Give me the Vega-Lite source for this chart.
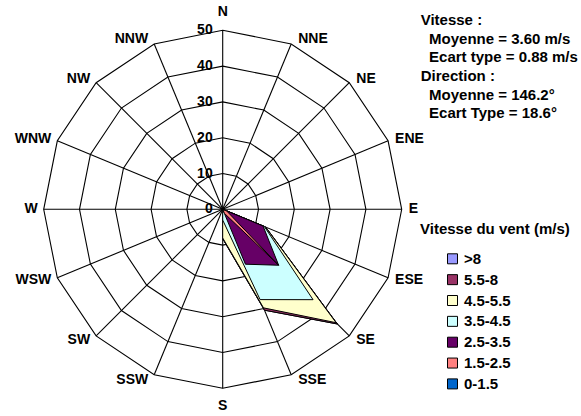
{
  "$schema": "https://vega.github.io/schema/vega-lite/v6.json",
  "width": 358,
  "height": 358,
  "autosize": {"type": "none"},
  "padding": {"left": 43.7, "top": 30.3, "right": 179.3, "bottom": 27.7},
  "background": "white",
  "title": {
    "text": ["Vitesse :", "\u200b\u00a0\u00a0Moyenne = 3.60 m/s", "\u200b\u00a0\u00a0Ecart type = 0.88 m/s", "Direction :", "\u200b\u00a0\u00a0Moyenne = 146.2°", "\u200b\u00a0\u00a0Ecart Type = 18.6°"],
    "anchor": "start",
    "frame": "group",
    "align": "left",
    "baseline": "top",
    "orient": "top",
    "offset": 0,
    "dx": 377,
    "dy": 116,
    "font": "Liberation Sans",
    "fontSize": 15,
    "fontWeight": "bold",
    "lineHeight": 18.7,
    "color": "black"
  },
  "datasets": {
    "dirs": [
      {"dir": "N", "angle": 0}, {"dir": "NNE", "angle": 22.5}, {"dir": "NE", "angle": 45}, {"dir": "ENE", "angle": 67.5},
      {"dir": "E", "angle": 90}, {"dir": "ESE", "angle": 112.5}, {"dir": "SE", "angle": 135}, {"dir": "SSE", "angle": 157.5},
      {"dir": "S", "angle": 180}, {"dir": "SSW", "angle": 202.5}, {"dir": "SW", "angle": 225}, {"dir": "WSW", "angle": 247.5},
      {"dir": "W", "angle": 270}, {"dir": "WNW", "angle": 292.5}, {"dir": "NW", "angle": 315}, {"dir": "NNW", "angle": 337.5}
    ],
    "freq": [
      {"classe": ">8", "dir": "N", "freq": 0}, {"classe": ">8", "dir": "NNE", "freq": 0}, {"classe": ">8", "dir": "NE", "freq": 0}, {"classe": ">8", "dir": "ENE", "freq": 0},
      {"classe": ">8", "dir": "E", "freq": 0}, {"classe": ">8", "dir": "ESE", "freq": 13.0}, {"classe": ">8", "dir": "SE", "freq": 45.3}, {"classe": ">8", "dir": "SSE", "freq": 30.5},
      {"classe": ">8", "dir": "S", "freq": 8.2}, {"classe": ">8", "dir": "SSW", "freq": 0}, {"classe": ">8", "dir": "SW", "freq": 0}, {"classe": ">8", "dir": "WSW", "freq": 0},
      {"classe": ">8", "dir": "W", "freq": 0}, {"classe": ">8", "dir": "WNW", "freq": 0}, {"classe": ">8", "dir": "NW", "freq": 0}, {"classe": ">8", "dir": "NNW", "freq": 0},

      {"classe": "5.5-8", "dir": "N", "freq": 0}, {"classe": "5.5-8", "dir": "NNE", "freq": 0}, {"classe": "5.5-8", "dir": "NE", "freq": 0}, {"classe": "5.5-8", "dir": "ENE", "freq": 0},
      {"classe": "5.5-8", "dir": "E", "freq": 0}, {"classe": "5.5-8", "dir": "ESE", "freq": 13.0}, {"classe": "5.5-8", "dir": "SE", "freq": 45.3}, {"classe": "5.5-8", "dir": "SSE", "freq": 30.5},
      {"classe": "5.5-8", "dir": "S", "freq": 8.2}, {"classe": "5.5-8", "dir": "SSW", "freq": 0}, {"classe": "5.5-8", "dir": "SW", "freq": 0}, {"classe": "5.5-8", "dir": "WSW", "freq": 0},
      {"classe": "5.5-8", "dir": "W", "freq": 0}, {"classe": "5.5-8", "dir": "WNW", "freq": 0}, {"classe": "5.5-8", "dir": "NW", "freq": 0}, {"classe": "5.5-8", "dir": "NNW", "freq": 0},

      {"classe": "4.5-5.5", "dir": "N", "freq": 0}, {"classe": "4.5-5.5", "dir": "NNE", "freq": 0}, {"classe": "4.5-5.5", "dir": "NE", "freq": 0}, {"classe": "4.5-5.5", "dir": "ENE", "freq": 0},
      {"classe": "4.5-5.5", "dir": "E", "freq": 0}, {"classe": "4.5-5.5", "dir": "ESE", "freq": 12.9}, {"classe": "4.5-5.5", "dir": "SE", "freq": 44.8}, {"classe": "4.5-5.5", "dir": "SSE", "freq": 29.8},
      {"classe": "4.5-5.5", "dir": "S", "freq": 8.0}, {"classe": "4.5-5.5", "dir": "SSW", "freq": 0}, {"classe": "4.5-5.5", "dir": "SW", "freq": 0}, {"classe": "4.5-5.5", "dir": "WSW", "freq": 0},
      {"classe": "4.5-5.5", "dir": "W", "freq": 0}, {"classe": "4.5-5.5", "dir": "WNW", "freq": 0}, {"classe": "4.5-5.5", "dir": "NW", "freq": 0}, {"classe": "4.5-5.5", "dir": "NNW", "freq": 0},

      {"classe": "3.5-4.5", "dir": "N", "freq": 0}, {"classe": "3.5-4.5", "dir": "NNE", "freq": 0}, {"classe": "3.5-4.5", "dir": "NE", "freq": 0}, {"classe": "3.5-4.5", "dir": "ENE", "freq": 0},
      {"classe": "3.5-4.5", "dir": "E", "freq": 0}, {"classe": "3.5-4.5", "dir": "ESE", "freq": 12.6}, {"classe": "3.5-4.5", "dir": "SE", "freq": 35.7}, {"classe": "3.5-4.5", "dir": "SSE", "freq": 27.3},
      {"classe": "3.5-4.5", "dir": "S", "freq": 3.0}, {"classe": "3.5-4.5", "dir": "SSW", "freq": 0}, {"classe": "3.5-4.5", "dir": "SW", "freq": 0}, {"classe": "3.5-4.5", "dir": "WSW", "freq": 0},
      {"classe": "3.5-4.5", "dir": "W", "freq": 0}, {"classe": "3.5-4.5", "dir": "WNW", "freq": 0}, {"classe": "3.5-4.5", "dir": "NW", "freq": 0}, {"classe": "3.5-4.5", "dir": "NNW", "freq": 0},

      {"classe": "2.5-3.5", "dir": "N", "freq": 0}, {"classe": "2.5-3.5", "dir": "NNE", "freq": 0}, {"classe": "2.5-3.5", "dir": "NE", "freq": 0}, {"classe": "2.5-3.5", "dir": "ENE", "freq": 0},
      {"classe": "2.5-3.5", "dir": "E", "freq": 0}, {"classe": "2.5-3.5", "dir": "ESE", "freq": 12.2}, {"classe": "2.5-3.5", "dir": "SE", "freq": 22.1}, {"classe": "2.5-3.5", "dir": "SSE", "freq": 16.6},
      {"classe": "2.5-3.5", "dir": "S", "freq": 0}, {"classe": "2.5-3.5", "dir": "SSW", "freq": 0}, {"classe": "2.5-3.5", "dir": "SW", "freq": 0}, {"classe": "2.5-3.5", "dir": "WSW", "freq": 0},
      {"classe": "2.5-3.5", "dir": "W", "freq": 0}, {"classe": "2.5-3.5", "dir": "WNW", "freq": 0}, {"classe": "2.5-3.5", "dir": "NW", "freq": 0}, {"classe": "2.5-3.5", "dir": "NNW", "freq": 0},

      {"classe": "1.5-2.5", "dir": "N", "freq": 0}, {"classe": "1.5-2.5", "dir": "NNE", "freq": 0}, {"classe": "1.5-2.5", "dir": "NE", "freq": 0}, {"classe": "1.5-2.5", "dir": "ENE", "freq": 0},
      {"classe": "1.5-2.5", "dir": "E", "freq": 0}, {"classe": "1.5-2.5", "dir": "ESE", "freq": 1.2}, {"classe": "1.5-2.5", "dir": "SE", "freq": 22.1}, {"classe": "1.5-2.5", "dir": "SSE", "freq": 1.2},
      {"classe": "1.5-2.5", "dir": "S", "freq": 0}, {"classe": "1.5-2.5", "dir": "SSW", "freq": 0}, {"classe": "1.5-2.5", "dir": "SW", "freq": 0}, {"classe": "1.5-2.5", "dir": "WSW", "freq": 0},
      {"classe": "1.5-2.5", "dir": "W", "freq": 0}, {"classe": "1.5-2.5", "dir": "WNW", "freq": 0}, {"classe": "1.5-2.5", "dir": "NW", "freq": 0}, {"classe": "1.5-2.5", "dir": "NNW", "freq": 0},

      {"classe": "0-1.5", "dir": "N", "freq": 0}, {"classe": "0-1.5", "dir": "NNE", "freq": 0}, {"classe": "0-1.5", "dir": "NE", "freq": 0}, {"classe": "0-1.5", "dir": "ENE", "freq": 0},
      {"classe": "0-1.5", "dir": "E", "freq": 0}, {"classe": "0-1.5", "dir": "ESE", "freq": 0}, {"classe": "0-1.5", "dir": "SE", "freq": 0.5}, {"classe": "0-1.5", "dir": "SSE", "freq": 0},
      {"classe": "0-1.5", "dir": "S", "freq": 0}, {"classe": "0-1.5", "dir": "SSW", "freq": 0}, {"classe": "0-1.5", "dir": "SW", "freq": 0}, {"classe": "0-1.5", "dir": "WSW", "freq": 0},
      {"classe": "0-1.5", "dir": "W", "freq": 0}, {"classe": "0-1.5", "dir": "WNW", "freq": 0}, {"classe": "0-1.5", "dir": "NW", "freq": 0}, {"classe": "0-1.5", "dir": "NNW", "freq": 0}
    ]
  },
  "encoding": {
    "x": {"field": "x", "type": "quantitative", "scale": {"domain": [-50, 50], "nice": false, "zero": false}, "axis": null},
    "y": {"field": "y", "type": "quantitative", "scale": {"domain": [-50, 50], "nice": false, "zero": false}, "axis": null}
  },
  "layer": [
    {
      "data": {"name": "dirs"},
      "transform": [
        {"calculate": "[10, 20, 30, 40, 50]", "as": "lv"},
        {"flatten": ["lv"]},
        {"calculate": "datum.lv * sin(datum.angle * PI / 180)", "as": "x"},
        {"calculate": "datum.lv * cos(datum.angle * PI / 180)", "as": "y"}
      ],
      "mark": {"type": "line", "interpolate": "linear-closed", "stroke": "black", "strokeWidth": 1.1},
      "encoding": {
        "detail": {"field": "lv", "type": "nominal"},
        "order": {"field": "angle", "type": "quantitative"}
      }
    },
    {
      "data": {"name": "dirs"},
      "transform": [
        {"calculate": "50 * sin(datum.angle * PI / 180)", "as": "x"},
        {"calculate": "50 * cos(datum.angle * PI / 180)", "as": "y"}
      ],
      "mark": {"type": "rule", "stroke": "black", "strokeWidth": 1.1},
      "encoding": {
        "x2": {"datum": 0},
        "y2": {"datum": 0}
      }
    },
    {
      "data": {"name": "freq"},
      "transform": [
        {"lookup": "dir", "from": {"data": {"name": "dirs"}, "key": "dir", "fields": ["angle"]}},
        {"calculate": "datum.freq * sin(datum.angle * PI / 180)", "as": "x"},
        {"calculate": "datum.freq * cos(datum.angle * PI / 180)", "as": "y"}
      ],
      "mark": {"type": "line", "interpolate": "linear-closed", "stroke": "black", "strokeWidth": 1, "fillOpacity": 1},
      "encoding": {
        "fill": {
          "field": "classe",
          "type": "nominal",
          "scale": {
            "domain": [">8", "5.5-8", "4.5-5.5", "3.5-4.5", "2.5-3.5", "1.5-2.5", "0-1.5"],
            "range": ["#9999FF", "#993366", "#FFFFCC", "#CCFFFF", "#660066", "#FF8080", "#0066CC"]
          },
          "legend": {
            "title": "Vitesse du vent (m/s)",
            "orient": "none",
            "legendX": 376.3,
            "legendY": 192,
            "padding": 0,
            "symbolType": "square",
            "symbolSize": 100,
            "symbolStrokeColor": "black",
            "symbolStrokeWidth": 1,
            "symbolOffset": 25,
            "labelOffset": 4,
            "rowPadding": 4.85,
            "titlePadding": 14,
            "labelFont": "Liberation Sans",
            "labelFontSize": 15,
            "labelFontWeight": "bold",
            "labelColor": "black",
            "titleFont": "Liberation Sans",
            "titleFontSize": 15,
            "titleFontWeight": "bold",
            "titleColor": "black"
          }
        },
        "order": {"field": "angle", "type": "quantitative"}
      }
    },
    {
      "data": {"name": "dirs"},
      "transform": [
        {"filter": "datum.angle == 0"},
        {"calculate": "[0, 10, 20, 30, 40, 50]", "as": "lv"},
        {"flatten": ["lv"]},
        {"calculate": "0", "as": "x"},
        {"calculate": "datum.lv", "as": "y"}
      ],
      "mark": {"type": "text", "align": "right", "baseline": "middle", "dx": -10, "font": "Liberation Sans", "fontSize": 14, "fontWeight": "bold", "color": "black"},
      "encoding": {"text": {"field": "lv", "type": "quantitative"}}
    },
    {
      "data": {"name": "dirs"},
      "transform": [
        {"filter": "datum.angle > 180"},
        {"calculate": "50 * sin(datum.angle * PI / 180)", "as": "x"},
        {"calculate": "51.5 * cos(datum.angle * PI / 180)", "as": "y"}
      ],
      "mark": {"type": "text", "align": "right", "baseline": "middle", "dx": -6, "font": "Liberation Sans", "fontSize": 14, "fontWeight": "bold", "color": "black"},
      "encoding": {"text": {"field": "dir", "type": "nominal"}}
    },
    {
      "data": {"name": "dirs"},
      "transform": [
        {"filter": "datum.angle > 0 && datum.angle < 180"},
        {"calculate": "50 * sin(datum.angle * PI / 180)", "as": "x"},
        {"calculate": "51.5 * cos(datum.angle * PI / 180)", "as": "y"}
      ],
      "mark": {"type": "text", "align": "left", "baseline": "middle", "dx": 7, "font": "Liberation Sans", "fontSize": 14, "fontWeight": "bold", "color": "black"},
      "encoding": {"text": {"field": "dir", "type": "nominal"}}
    },
    {
      "data": {"name": "dirs"},
      "transform": [
        {"filter": "datum.angle == 0 || datum.angle == 180"},
        {"calculate": "0", "as": "x"},
        {"calculate": "55 * cos(datum.angle * PI / 180)", "as": "y"}
      ],
      "mark": {"type": "text", "align": "center", "baseline": "middle", "font": "Liberation Sans", "fontSize": 14, "fontWeight": "bold", "color": "black"},
      "encoding": {"text": {"field": "dir", "type": "nominal"}}
    }
  ],
  "config": {
    "view": {"stroke": null},
    "text": {"font": "Liberation Sans"}
  }
}
